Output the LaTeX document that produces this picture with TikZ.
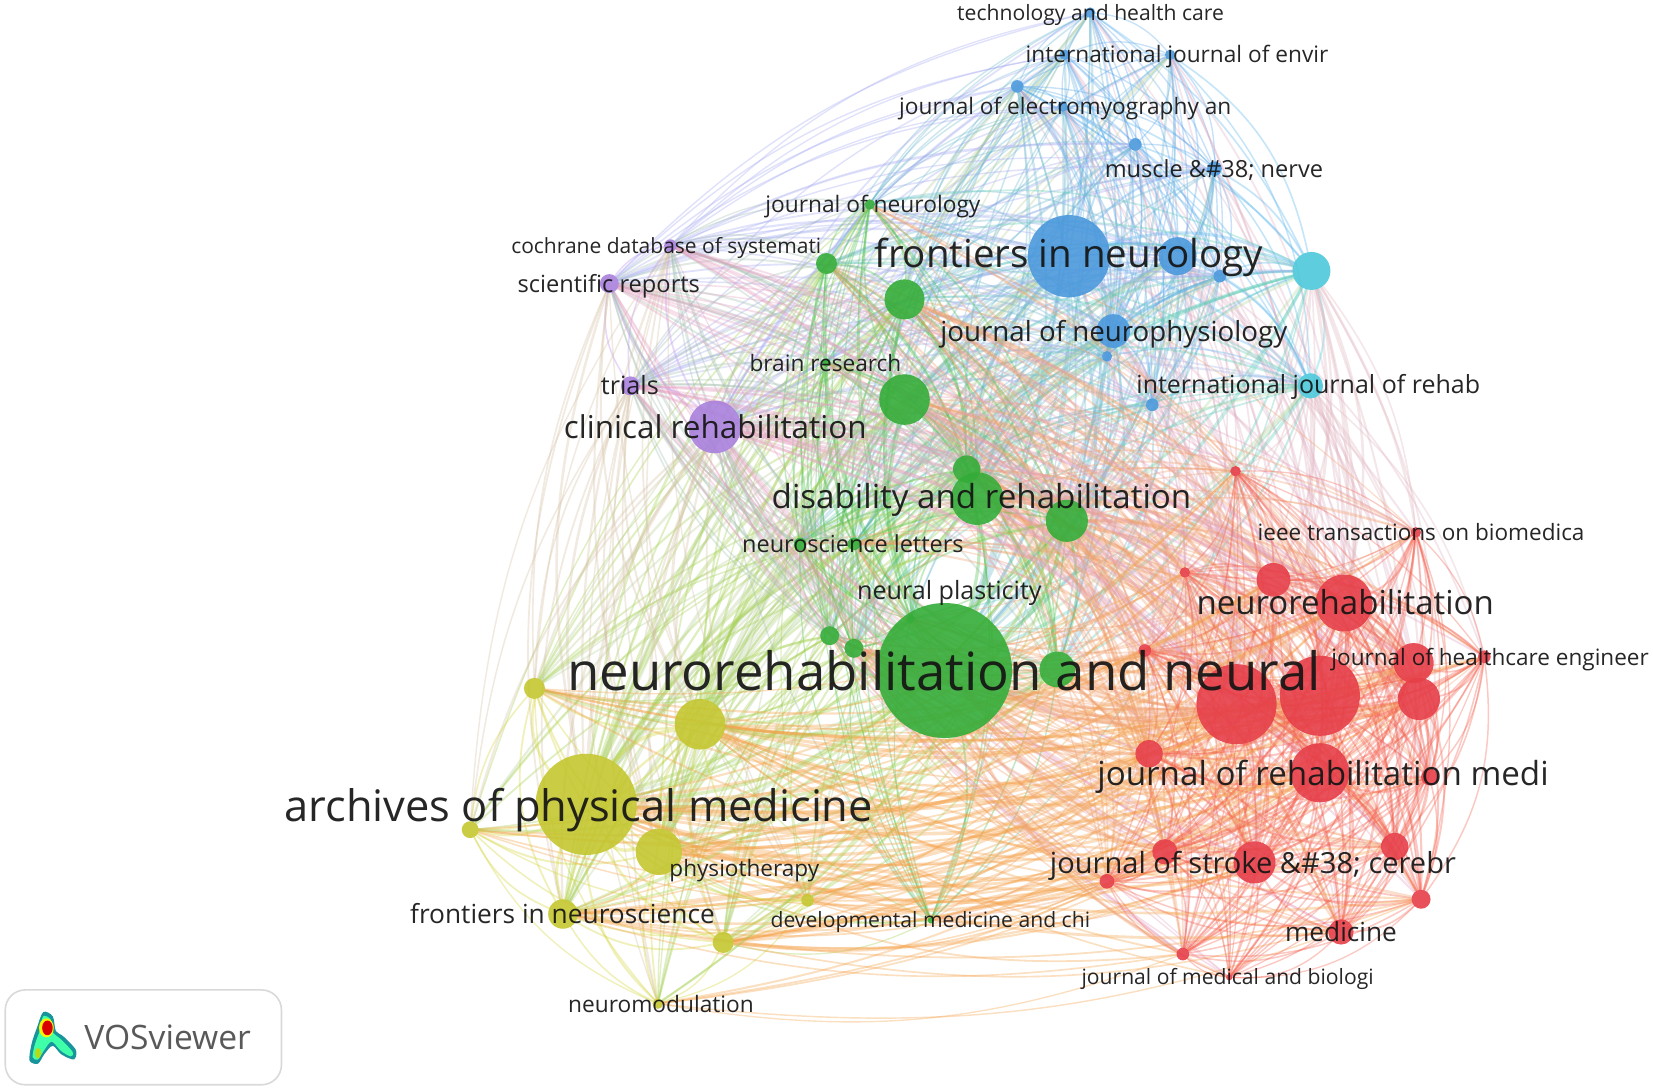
\documentclass[tikz,border=0pt]{standalone}
\usepackage{fontspec}
\usepackage{graphicx}
\setmainfont{Open Sans}
\usetikzlibrary{backgrounds}
\definecolor{cg}{HTML}{34AC38}
\definecolor{cr}{HTML}{E63E48}
\definecolor{cy}{HTML}{C4C630}
\definecolor{cb}{HTML}{4A98DC}
\definecolor{cp}{HTML}{A880DC}
\definecolor{cc}{HTML}{4CC8DA}
\newcommand\pairmix[3]{\definecolor{mix#1#2}{HTML}{#3}\definecolor{mix#2#1}{HTML}{#3}}
\pairmix{r}{r}{F4604E}\pairmix{g}{g}{4CC04C}\pairmix{y}{y}{D2D238}
\pairmix{b}{b}{5AA6EC}\pairmix{c}{c}{44D4E4}\pairmix{p}{p}{BC8EF0}
\pairmix{r}{g}{F0A070}\pairmix{r}{y}{F4A048}\pairmix{r}{b}{E0B0C4}\pairmix{r}{c}{E0B8C0}
\pairmix{r}{p}{E4A0C0}\pairmix{g}{b}{70B8D0}\pairmix{g}{p}{A4C0B0}\pairmix{g}{y}{A4D050}
\pairmix{g}{c}{60CCB8}\pairmix{y}{p}{D4C0A4}\pairmix{y}{b}{B8D098}\pairmix{y}{c}{B4D8A0}
\pairmix{b}{p}{A4A8F0}\pairmix{b}{c}{58B4EC}\pairmix{p}{c}{A8B8E8}
\def\tBR{br}\def\tCR{cr}
\tikzset{
  netnode/.style={circle,inner sep=0pt,opacity=.9},
  journal/.style={inner sep=0pt,text=black!92,text opacity=.92},
  link/.style={line cap=round,opacity=.34}
}
\begin{document}
\begin{tikzpicture}[x=1.0542pt,y=-1.0542pt]
\useasboundingbox (0,0) rectangle (1568,1033);
% journals: x / y / radius / cluster
\foreach \x/\y/\rr/\cl [count=\n] in {
1034/12/5/b,1010/52/5/b,1110/52/5/b,965/82/6/b,1008/101/5/b,1077/137/6/b,1152/160/7/b,
1014/243/39/b,1117/243/18/b,1157/262/6/b,1056/314/16/b,1050/338/5/b,1093/384/6/b,
1244/257/18/c,1243/366/12/c,
825/194/5/g,784/250/10/g,858/284/19/g,784/344/4/g,858/379/24/g,917/445/13/g,927/473/25/g,
1012/494/20/g,759/516/6/g,810/516/6/g,787/603/9/g,810/615/9/g,864/587/4/g,1003/635/17/g,883/873/3/g,
636/233/6/p,578/269/9/p,598/366/9/p,678/405/25/p,
507/653/10/y,664/687/24/y,446/787/8/y,625/808/22/y,534/867/14/y,766/854/6/y,686/894/10/y,624/952/5/y,
1172/447/5/r,1343/505/5/r,1124/543/5/r,1208/550/16/r,1275/572/27/r,1086/617/6/r,1408/623/6/r,
1341/629/19/r,1346/663/20/r,1173/668/38/r,1252/660/38/r,1252/733/28/r,1090/715/13/r,1356/737/8/r,
1190/818/20/r,1105/808/12/r,1323/803/13/r,1050/836/7/r,1348/853/9/r,1272/884/12/r,1122/905/6/r,1166/927/3/r,
556/763/48/y,896/636/64/g}
{
  \pgfmathsetmacro\dia{\rr*2.1084}
  \node[netnode,fill=c\cl,minimum size=\dia pt] (n\n) at (\x,\y) {};
  \expandafter\xdef\csname nx\n\endcsname{\x}
  \expandafter\xdef\csname ny\n\endcsname{\y}
  \expandafter\xdef\csname nr\n\endcsname{\rr}
  \expandafter\xdef\csname nc\n\endcsname{\cl}
}
\pgfmathsetseed{11}
\begin{pgfonlayer}{background}
\foreach \i in {1,...,65}{
  \pgfmathtruncatemacro\st{\i+1}
  \edef\xa{\csname nx\i\endcsname}\edef\ya{\csname ny\i\endcsname}
  \edef\ra{\csname nr\i\endcsname}\edef\ca{\csname nc\i\endcsname}
  \foreach \j in {\st,...,66}{
    \edef\xb{\csname nx\j\endcsname}\edef\yb{\csname ny\j\endcsname}
    \edef\rb{\csname nr\j\endcsname}\edef\cb{\csname nc\j\endcsname}
    \pgfmathsetmacro\dst{veclen(\xb-\xa,\yb-\ya)}
    \edef\pp{\ca\cb}
    \def\same{0.6}
    \ifx\pp\tBR\def\same{0.25}\fi
    \ifx\pp\tCR\def\same{0.35}\fi
    \if p\ca\def\same{1.1}\fi
    \if p\cb\def\same{1.1}\fi
    \ifx\ca\cb\def\same{2.6}\fi
    \pgfmathsetmacro\pr{min(5,sqrt(\ra*\rb)/(0.024*\dst)*\same)}
    \pgfmathsetmacro\uu{rnd}
    \ifdim\uu pt<\pr pt
      \pgfmathsetmacro\lw{min(3.6,0.9+0.08*sqrt(\ra*\rb))}
      \pgfmathsetmacro\dotp{(\yb-\ya)/100*((\xa+\xb)/2-900)/100-(\xb-\xa)/100*((\ya+\yb)/2-560)/100}
      \pgfmathsetmacro\bn{max(8,(13+8*rnd)*(1.25-\dst/1500))}
      \ifdim\dotp pt>0pt
        \draw[link,draw=mix\ca\cb,line width=\lw pt] (n\i) to[bend left=\bn] (n\j);
      \else
        \draw[link,draw=mix\ca\cb,line width=\lw pt] (n\i) to[bend right=\bn] (n\j);
      \fi
    \fi
  }
}
\end{pgfonlayer}
% labels: left / right / y / text
\foreach \la/\lb/\y/\t [count=\k] in {
908/1161/14/technology and health care,
973/1260/54/international journal of envir,
853/1168/103/journal of electromyography an,
1048/1255/161/muscle \&\#38; nerve,
726/930/196/journal of neurology,
485/779/235/cochrane database of systemati,
830/1198/244/frontiers in neurology,
491/664/272/scientific reports,
892/1221/317/journal of neurophysiology,
711/855/344/brain research,
570/625/365/trials,
1078/1404/367/international journal of rehab,
535/822/405/clinical rehabilitation,
732/1130/474/disability and rehabilitation,
1193/1503/505/ieee transactions on biomedica,
704/914/516/neuroscience letters,
813/988/562/neural plasticity,
1135/1417/571/neurorehabilitation,
1263/1564/626/journal of healthcare engineer,
538/1253/636/neurorehabilitation and neural,
1041/1469/737/journal of rehabilitation medi,
270/828/768/archives of physical medicine,
996/1381/821/journal of stroke \&\#38; cerebr,
635/777/826/physiotherapy,
389/678/867/frontiers in neuroscience,
731/1034/875/developmental medicine and chi,
1219/1325/884/medicine,
1026/1303/929/journal of medical and biologi,
539/715/952/neuromodulation}
{
  \pgfmathsetmacro\lblw{(\lb-\la)*1.0542}
  \pgfmathsetmacro\mx{(\la+\lb)/2}
  \node[journal] (lab\k) at (\mx,\y) {\resizebox{\lblw pt}{!}{\t}};
}
% VOSviewer badge
\draw[draw=black!15,line width=1.6pt,fill=white,rounded corners=20pt] (5,939) rectangle (267,1029);
\fill[color=teal!70!cc] plot[smooth cycle] coordinates {(41,960) (50,964) (53,978) (60,983) (72,996) (70,1005) (58,1000) (50,992) (42,1000) (36,1009) (28,1006) (30,990) (35,975)};
\fill[color=green!45!cyan!75] plot[smooth cycle] coordinates {(41,964) (48,967) (50,979) (58,986) (69,998) (67,1002) (58,997) (49,988) (42,996) (36,1005) (31,1003) (33,991) (38,977)};
\fill[color=yellow] (44,975) ellipse (7 and 9);
\fill[color=yellow!70!green] (36,999) ellipse (3 and 5);
\fill[color=red!85!black] (45,975) ellipse (5 and 7);
\node[inner sep=0pt,text=black!65] (vos) at (159,984) {\resizebox{166.6pt}{!}{VOSviewer}};
\end{tikzpicture}
\end{document}
